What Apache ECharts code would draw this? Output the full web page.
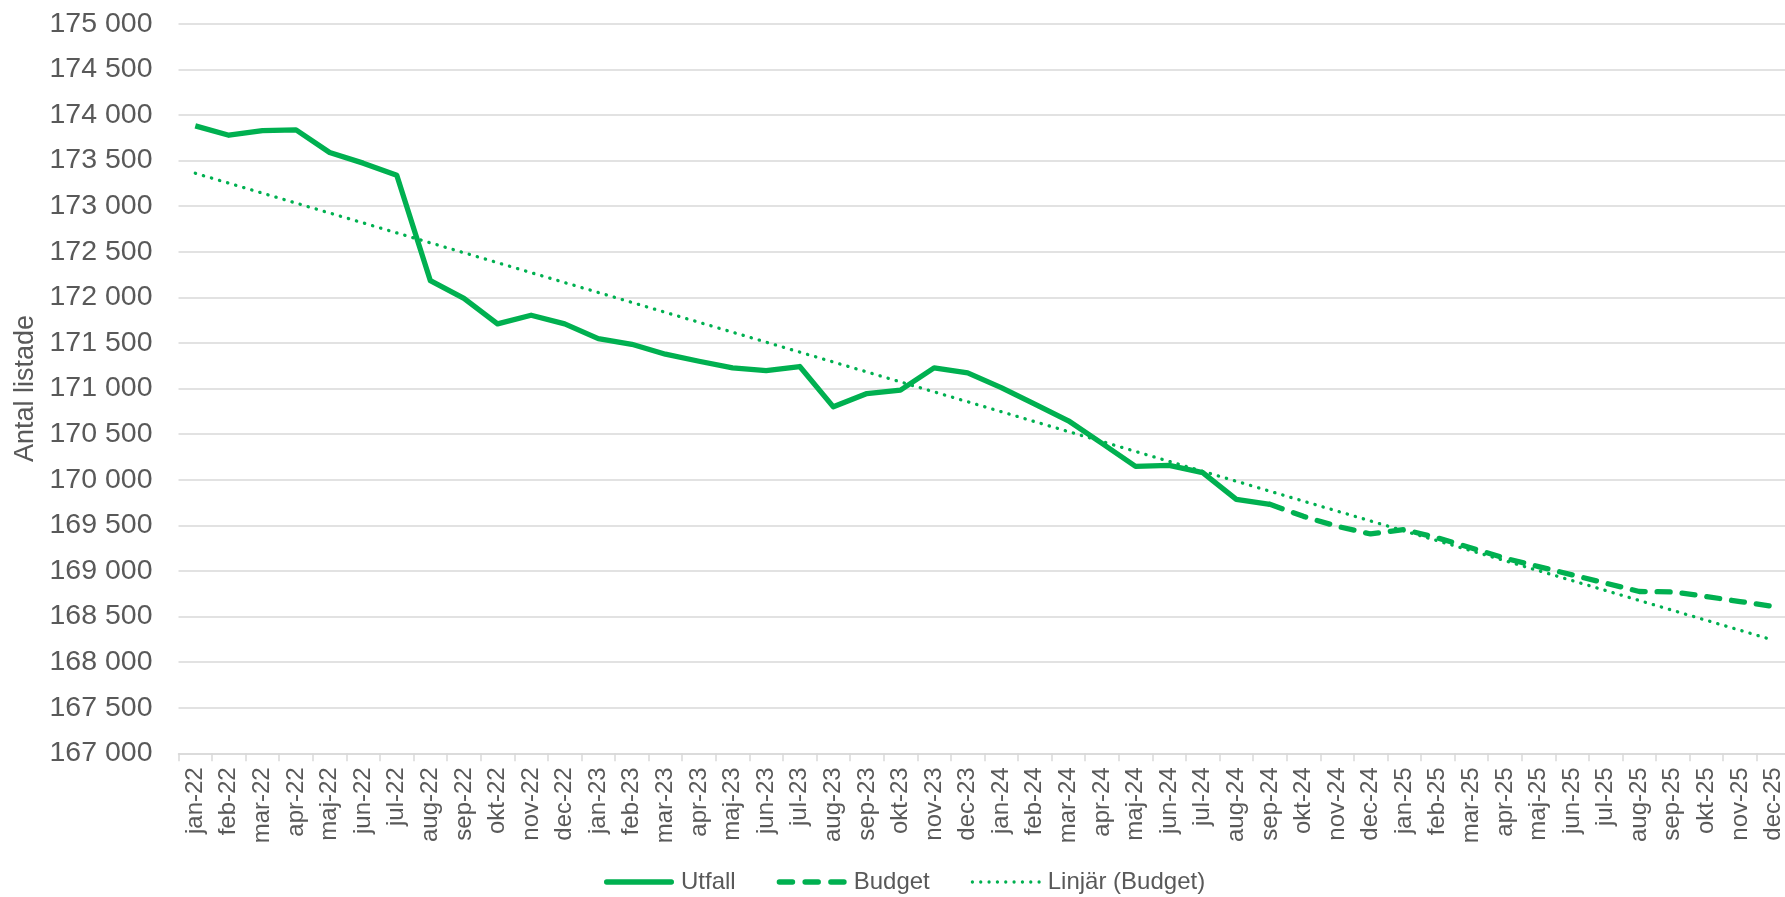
<!DOCTYPE html>
<html>
<head>
<meta charset="utf-8">
<script src="https://cdn.jsdelivr.net/npm/echarts@6/dist/echarts.min.js"></script>
<style>
html,body{margin:0;padding:0;background:#fff;}
#chart{width:1785px;height:897px;}
</style>
</head>
<body>
<div id="chart"></div>
<script>
const categories = [
  'jan-22','feb-22','mar-22','apr-22','maj-22','jun-22','jul-22','aug-22','sep-22','okt-22','nov-22','dec-22',
  'jan-23','feb-23','mar-23','apr-23','maj-23','jun-23','jul-23','aug-23','sep-23','okt-23','nov-23','dec-23',
  'jan-24','feb-24','mar-24','apr-24','maj-24','jun-24','jul-24','aug-24','sep-24','okt-24','nov-24','dec-24',
  'jan-25','feb-25','mar-25','apr-25','maj-25','jun-25','jul-25','aug-25','sep-25','okt-25','nov-25','dec-25'
];

// Utfall: jan-22 .. sep-24
const utfall = [
  173880, 173777, 173828, 173836, 173588, 173471, 173339, 172182, 171989, 171708, 171803, 171708,
  171547, 171485, 171376, 171299, 171226, 171197, 171241, 170799, 170945, 170982, 171226, 171172,
  171010, 170828, 170646, 170398, 170146, 170157, 170077, 169785, 169730
];

// Budget: sep-24 .. dec-25
const budget = [
  169730, 169598, 169489, 169405,
  169453, 169361, 169252, 169139, 169047, 168956, 168865, 168774, 168770, 168719, 168664, 168610
];

// Linear trend (Budget): value read at the first and last month
const trendStart = 173360;
const trendEnd = 168240;

const yMin = 167000, yMax = 175000, yStep = 500;

const green = '#00B050';
const grey = '#595959';
const font = 'Liberation Sans, Arial, sans-serif';
const nCat = categories.length;

const utfallData = categories.map((c, i) => i < utfall.length ? utfall[i] : null);
const budgetOffset = nCat - budget.length;
const budgetData = categories.map((c, i) => i >= budgetOffset ? budget[i - budgetOffset] : null);
const trendData = categories.map((c, i) => i === 0 ? trendStart : (i === nCat - 1 ? trendEnd : null));

// legend icon shapes (rounded bar, dashes, dots)
function pill(x0, x1, h) {
  const r = h / 2;
  return 'M' + (x0 + r) + ',0 L' + (x1 - r) + ',0 A' + r + ',' + r + ' 0 0 1 ' + (x1 - r) + ',' + h +
         ' L' + (x0 + r) + ',' + h + ' A' + r + ',' + r + ' 0 0 1 ' + (x0 + r) + ',0 Z ';
}
function dot(cx, r) {
  return 'M' + (cx - r) + ',' + r + ' A' + r + ',' + r + ' 0 1 1 ' + (cx + r) + ',' + r +
         ' A' + r + ',' + r + ' 0 1 1 ' + (cx - r) + ',' + r + ' Z ';
}
const iconSolid = 'path://' + pill(0, 70, 5.3);
const iconDash = 'path://' + pill(0, 18.5, 5.3) + pill(25.75, 44.25, 5.3) + pill(51.5, 70, 5.3);
let dots = '';
for (let k = 0; k < 9; k++) dots += dot(1.65 + k * (66.7 / 8), 1.65);
const iconDot = 'path://' + dots;

const chart = echarts.init(document.getElementById('chart'));
chart.setOption({
  animation: false,
  backgroundColor: '#ffffff',
  textStyle: { fontFamily: font },
  grid: { left: 178.5, right: -5.4, top: 23.7, bottom: 143.7, containLabel: false, outerBoundsMode: 'none' },
  legend: {
    left: 599,
    top: 865,
    itemWidth: 70,
    itemHeight: 14,
    itemGap: 41,
    textStyle: { fontSize: 24, color: grey, fontFamily: font, padding: [0, 0, 0, 2] },
    data: [
      { name: 'Utfall', icon: iconSolid, itemStyle: { color: green, borderWidth: 0 } },
      { name: 'Budget', icon: iconDash, itemStyle: { color: green, borderWidth: 0 } },
      { name: 'Linjär (Budget)', icon: iconDot, itemStyle: { color: green, borderWidth: 0 } }
    ]
  },
  xAxis: {
    type: 'category',
    data: categories,
    boundaryGap: true,
    axisLine: { lineStyle: { color: '#d9d9d9', width: 1.5 } },
    axisTick: { show: true, length: 8, lineStyle: { color: '#d9d9d9', width: 1.5 } },
    axisLabel: {
      rotate: 90,
      interval: 0,
      margin: 14,
      fontSize: 24,
      color: grey,
      fontFamily: font
    },
    splitLine: { show: false }
  },
  yAxis: {
    type: 'value',
    min: yMin,
    max: yMax,
    interval: yStep,
    name: 'Antal listade',
    nameLocation: 'middle',
    nameGap: 138,
    nameRotate: 90,
    nameTextStyle: { fontSize: 27, color: grey, fontFamily: font },
    axisLine: { show: false },
    axisTick: { show: false },
    axisLabel: {
      margin: 26,
      fontSize: 28.5,
      color: grey,
      fontFamily: font,
      formatter: v => String(v).replace(/\B(?=(\d{3})+(?!\d))/g, ' ')
    },
    splitLine: { lineStyle: { color: '#d9d9d9', width: 1.5 } }
  },
  series: [
    {
      name: 'Linjär (Budget)',
      type: 'line',
      data: trendData,
      connectNulls: true,
      symbol: 'none',
      z: 1,
      lineStyle: { color: green, width: 3.3, type: [0.3, 8.1], cap: 'round' },
      itemStyle: { color: green }
    },
    {
      name: 'Budget',
      type: 'line',
      data: budgetData,
      symbol: 'none',
      z: 2,
      lineStyle: { color: green, width: 5.3, type: [13, 12], cap: 'round', join: 'round' },
      itemStyle: { color: green }
    },
    {
      name: 'Utfall',
      type: 'line',
      data: utfallData,
      symbol: 'none',
      z: 3,
      lineStyle: { color: green, width: 5.3, join: 'round' },
      itemStyle: { color: green }
    }
  ]
});
</script>
</body>
</html>
